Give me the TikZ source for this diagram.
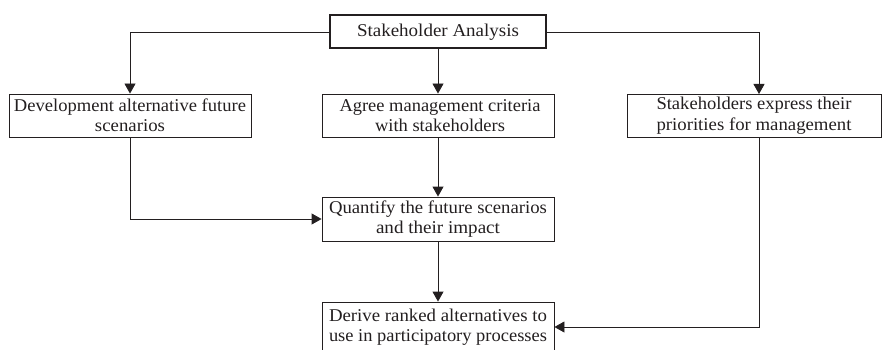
\documentclass[tikz,border=0pt]{standalone}
\usepackage{fontspec}
\usepackage{graphicx}
\setmainfont{Liberation Serif}
\usetikzlibrary{arrows.meta}
\definecolor{ink}{HTML}{231F20}
\newcommand{\fw}[2]{\resizebox{#1pt}{\height}{#2}}
\begin{document}
\begin{tikzpicture}[x=1pt,y=-1pt,
  box/.style={draw=ink,line width=0.9pt,inner sep=0pt,align=center,text=ink,
    font=\fontsize{18}{20.5}\selectfont},
  conn/.style={draw=ink,line width=0.9pt,-{Triangle[length=10pt,width=11pt]}}]
\clip (0,0) rectangle (885,350);
\useasboundingbox (0,0) rectangle (885,350);
\node[box,line width=2pt,minimum width=216pt,minimum height=33pt] (top) at (438,32) {\fw{162}{Stakeholder Analysis}};
\node[box,minimum width=242pt,minimum height=43pt] (lb) at (130,115.5) {\fw{232}{Development alternative future}\\\fw{70}{scenarios}};
\node[box,minimum width=232pt,minimum height=43pt] (mb) at (438,115.5) {\hspace*{4pt}\fw{201}{Agree management criteria}\\\hspace*{4pt}\fw{130}{with stakeholders}};
\node[box,minimum width=254pt,minimum height=43pt] (rb) at (754,115.5) {\fw{195}{Stakeholders express their}\\\fw{195}{priorities for management}};
\node[box,minimum width=232pt,minimum height=44pt] (qb) at (438,219) {\fw{218}{Quantify the future scenarios}\\\fw{124}{and their impact}};
\node[box,minimum width=232pt,minimum height=50pt] (db) at (438,327) {\fw{218}{Derive ranked alternatives to}\\\fw{218}{use in participatory processes}};
\coordinate (rj) at (759,94);
\coordinate (rs) at (759,137);
\draw[conn] (top.west) -| (lb.north);
\draw[conn] (top.south) -- (mb.north);
\draw[conn] (top.east) -| (rj);
\draw[conn] (mb.south) -- (qb.north);
\draw[conn] (lb.south) |- (qb.west);
\draw[conn] (qb.south) -- (db.north);
\draw[conn] (rs) |- (db.east);
\end{tikzpicture}
\end{document}
